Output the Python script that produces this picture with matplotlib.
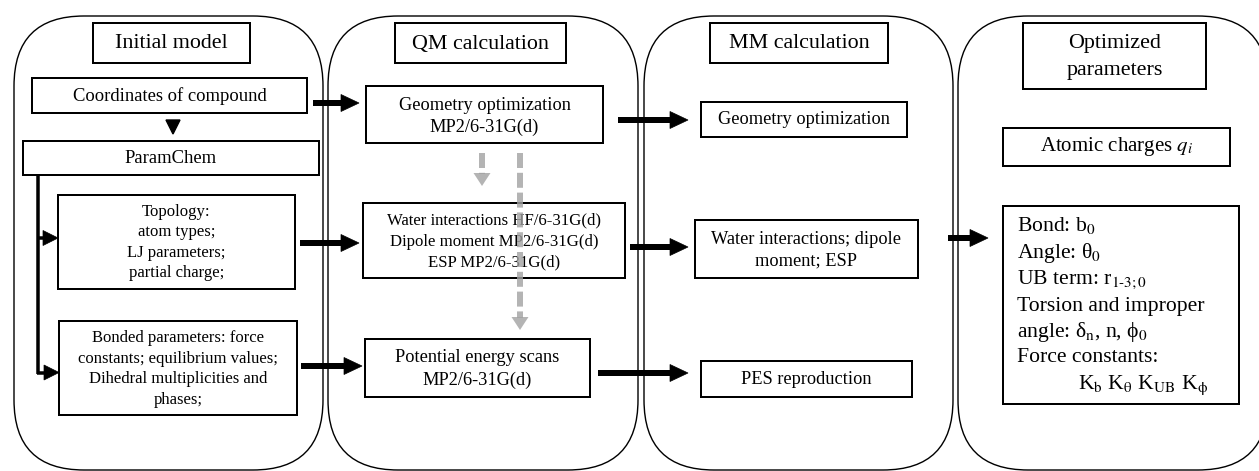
import matplotlib
matplotlib.use("Agg")
import matplotlib.pyplot as plt
from matplotlib.patches import FancyBboxPatch, Rectangle, Polygon

plt.rcParams['font.family'] = ['Liberation Serif', 'DejaVu Serif']
plt.rcParams['mathtext.fontset'] = 'stix'

# ---- text content (data) ----
panel_titles = ["Initial model", "QM calculation", "MM calculation", "Optimized\nparameters"]
initial_boxes = ["Coordinates of compound", "ParamChem",
                 ["Topology:", "atom types;", "LJ parameters;", "partial charge;"],
                 ["Bonded parameters: force", "constants; equilibrium values;",
                  "Dihedral multiplicities and", "phases;"]]
qm_boxes = [["Geometry optimization", "MP2/6-31G(d)"],
            ["Water interactions HF/6-31G(d)", "Dipole moment MP2/6-31G(d)", "ESP MP2/6-31G(d)"],
            ["Potential energy scans", "MP2/6-31G(d)"]]
mm_boxes = [["Geometry optimization"],
            ["Water interactions; dipole", "moment; ESP"],
            ["PES reproduction"]]
opt_charges = r"Atomic charges $q_i$"
opt_params = [r"Bond: b$_0$", r"Angle: θ$_0$", r"UB term: r$_{\mathrm{1\text{-}3;0}}$",
              "Torsion and improper", r"angle: δ$_\mathrm{n}$, n, ϕ$_0$",
              "Force constants:", r"K$_\mathrm{b}$ K$_\mathrm{θ}$ K$_\mathrm{UB}$ K$_\mathrm{ϕ}$"]

W, H = 1259, 471
fig = plt.figure(figsize=(W / 100, H / 100), dpi=100)
ax = fig.add_axes([0, 0, 1, 1])
ax.set_xlim(0, W)
ax.set_ylim(H, 0)
ax.axis('off')

PX = 0.72  # points per pixel

def panel(x0, x1, y0=16, y1=470, r=70):
    p = FancyBboxPatch((x0 + r, y0 + r), (x1 - x0) - 2 * r, (y1 - y0) - 2 * r,
                       boxstyle=f"round,pad={r},rounding_size={r}",
                       fc='white', ec='black', lw=1.4 * PX, zorder=1)
    ax.add_patch(p)

def box(x0, y0, x1, y1, lw=2.0):
    ax.add_patch(Rectangle((x0, y0), x1 - x0, y1 - y0, fc='white', ec='black',
                           lw=lw * PX, zorder=3))

def lines(cx, cy, txts, size, spacing, ha='center'):
    n = len(txts)
    for i, t in enumerate(txts):
        y = cy + (i - (n - 1) / 2) * spacing
        ax.text(cx, y, t, ha=ha, va='center', fontsize=size, zorder=5)

def arrow(x0, y, x1, lw=6, hl=18, hw=17, color='black'):
    ax.plot([x0, x1 - hl + 1], [y, y], color=color, lw=lw * PX, solid_capstyle='butt', zorder=6)
    ax.add_patch(Polygon([[x1 - hl, y - hw / 2], [x1, y], [x1 - hl, y + hw / 2]],
                         closed=True, fc=color, ec=color, lw=0.5, zorder=6))

def varrow_dashed(x, y0, y1, lw=6, hl=13, hw=17, color='#a2a2a2', alpha=0.8):
    ax.plot([x, x], [y0, y1 - hl + 1], color=color, lw=lw * PX, alpha=alpha,
            dashes=(2.5, 0.8), solid_capstyle='butt', zorder=7)
    ax.add_patch(Polygon([[x - hw / 2, y1 - hl], [x, y1], [x + hw / 2, y1 - hl]],
                         closed=True, fc=color, ec='none', alpha=alpha, zorder=7))

# panels
panel(14, 323)
panel(328, 638)
panel(644, 953)
panel(958, 1268)

# titles
title_boxes = [(93, 23, 250, 63), (395, 23, 566, 63), (710, 23, 888, 63), (1023, 23, 1206, 89)]
for (x0, y0, x1, y1), t in zip(title_boxes, panel_titles):
    box(x0, y0, x1, y1)
    lines((x0 + x1) / 2, (y0 + y1) / 2 + 1, t.split("\n"), 15.8, 27)

# ---- Initial model ----
box(32, 78, 307, 113)
lines(169.5, 96, [initial_boxes[0]], 13.4, 20)
box(23, 141, 319, 175)
lines(171, 158.5, [initial_boxes[1]], 13.4, 20)
ax.add_patch(Polygon([[166, 120], [180, 120], [173, 134]], closed=True, fc='black', ec='black', zorder=6))
box(58, 195, 295, 289)
lines(176.5, 242.5, initial_boxes[2], 12.0, 20.5)
box(59, 321, 297, 415)
lines(178, 369, initial_boxes[3], 12.0, 20.7)
# connector from ParamChem
ax.plot([38.5, 38.5], [175, 374], color='black', lw=3.5 * PX, solid_capstyle='butt', zorder=6)
arrow(37, 238, 58, lw=3.5, hl=15, hw=15)
arrow(37, 372.5, 59, lw=3.5, hl=15, hw=15)

# arrows Initial -> QM
arrow(313, 103, 359)
arrow(300, 243, 359)
arrow(301, 366, 362)

# ---- QM ----
box(366, 86, 603, 143)
lines(484.5, 116, qm_boxes[0], 13.2, 22)
box(363, 203, 625, 278)
lines(494, 241.5, qm_boxes[1], 12.1, 21)
box(365, 339, 590, 397)
lines(477.5, 369, qm_boxes[2], 13.2, 22)
varrow_dashed(482, 153, 186)
varrow_dashed(520, 153, 330)

# arrows QM -> MM
arrow(618, 120, 688)
arrow(630, 247, 688)
arrow(598, 373, 688)

# ---- MM ----
box(701, 102, 907, 137)
lines(804, 120, mm_boxes[0], 13.2, 20)
box(695, 220, 918, 278)
lines(806.5, 250, mm_boxes[1], 13.2, 22)
box(701, 361, 912, 397)
lines(806.5, 379.5, mm_boxes[2], 13.2, 20)

arrow(948, 238, 988)

# ---- Optimized ----
box(1003, 128, 1230, 166)
lines(1116.5, 147, [opt_charges], 15.0, 20)
box(1003, 206, 1239, 404)
ys = [226, 253, 280, 306, 332, 358, 385]
for i, (t, y) in enumerate(zip(opt_params, ys)):
    x = 1017 if i < 6 else 1078
    ax.text(x, y, t, ha='left', va='center', fontsize=15.6, zorder=5)

fig.savefig("out.png", dpi=100)
